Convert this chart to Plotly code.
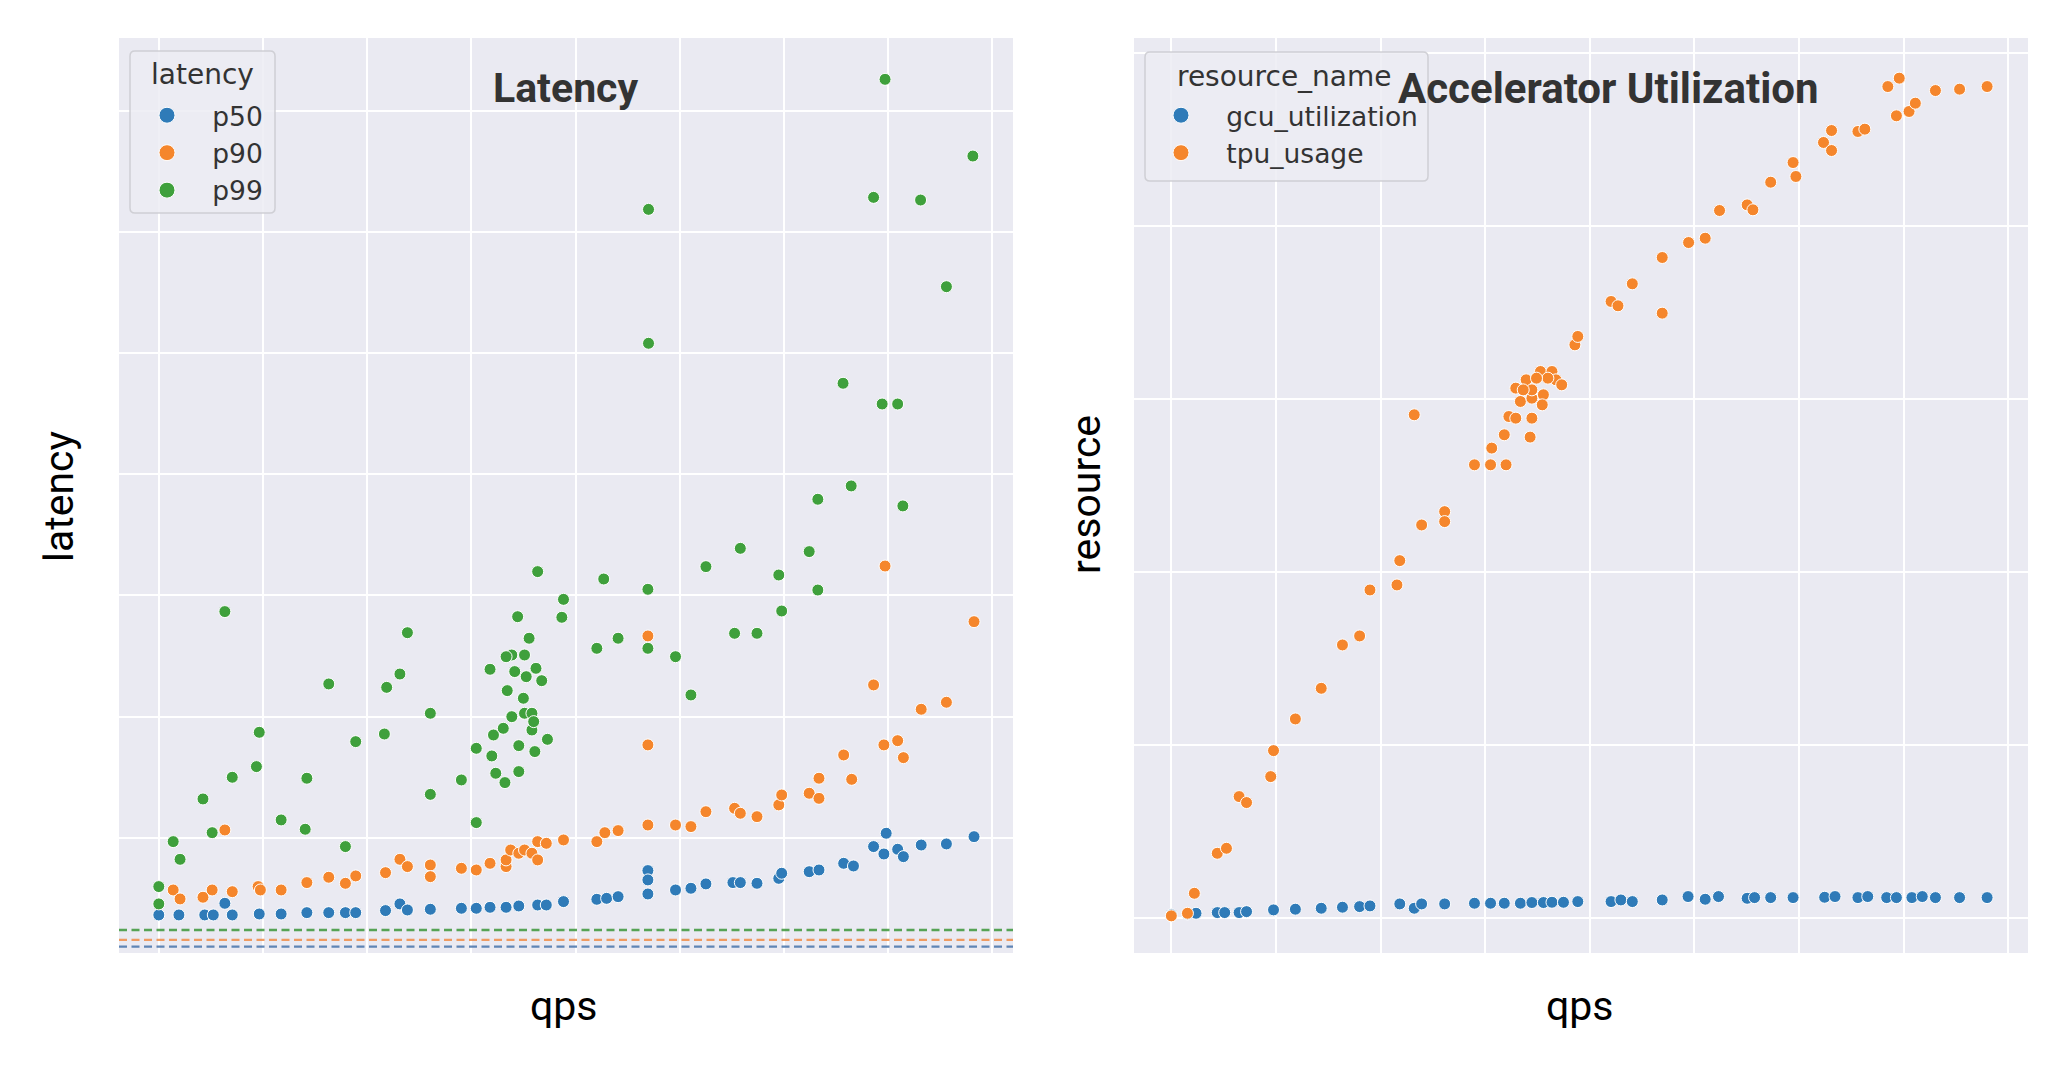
import plotly.graph_objects as go

W, H = 2048, 1066

# ---------------- data: Latency vs qps ----------------
p50_qps = [10.0, 11.93, 14.41, 15.23, 16.34, 17.05, 19.64, 21.74, 24.21, 26.31, 27.91, 28.90,
           31.76, 33.14, 33.86, 36.06, 39.04, 40.47, 41.79, 43.33, 44.55, 46.36, 47.19, 48.84,
           52.04, 52.98, 54.08, 56.94, 56.94, 56.94, 59.59, 61.07, 62.51, 65.10, 65.81, 67.41,
           69.50, 69.78, 72.42, 73.36, 75.73, 76.67, 78.60, 79.81, 79.59, 80.91, 81.46, 83.17,
           85.59, 88.24]
p50_lat = [36.4, 36.4, 36.4, 36.4, 46.0, 36.4, 37.2, 37.2, 38.3, 38.3, 38.3, 38.3,
           40.0, 45.5, 40.5, 41.1, 41.9, 41.9, 42.7, 42.7, 43.8, 44.6, 44.6, 47.4,
           49.3, 50.1, 51.5, 73.0, 65.3, 53.7, 57.0, 58.4, 62.0, 63.1, 63.1, 62.5,
           66.6, 70.8, 72.1, 73.5, 79.0, 76.8, 92.8, 103.8, 86.7, 90.6, 84.5, 94.1,
           95.0, 101.0]

p90_qps = [11.38, 12.04, 14.24, 15.12, 16.34, 17.05, 19.53, 19.75, 21.74, 24.21, 26.31, 27.91,
           28.90, 31.76, 33.14, 33.86, 36.06, 36.06, 39.04, 40.47, 41.79, 43.33, 43.33, 43.77,
           44.55, 45.10, 45.81, 46.36, 46.36, 47.19, 48.84, 52.04, 52.81, 54.08, 56.94, 56.94,
           56.94, 59.59, 61.07, 62.51, 65.26, 65.81, 67.41, 69.50, 69.78, 72.42, 73.36, 73.36,
           75.73, 76.50, 78.60, 79.59, 79.70, 80.91, 81.46, 83.17, 85.59, 88.24]
p90_lat = [57.0, 49.6, 51.0, 57.0, 106.5, 55.6, 59.8, 57.0, 57.0, 63.1, 67.5, 62.5,
           68.6, 71.3, 82.3, 76.3, 77.6, 68.0, 74.9, 73.5, 79.0, 76.3, 81.8, 90.0,
           87.3, 90.0, 87.3, 96.9, 81.8, 95.5, 98.3, 96.9, 104.3, 106.0, 110.6, 176.7,
           266.6, 110.6, 109.3, 121.6, 124.4, 120.3, 117.5, 127.2, 135.4, 136.8, 132.6, 149.2,
           168.4, 148.3, 226.2, 176.7, 324.3, 180.2, 166.2, 206.1, 211.9, 278.4]

p99_qps = [10.0, 10.0, 11.38, 12.04, 14.24, 15.12, 16.34, 17.05, 19.37, 19.64, 21.74, 24.05,
           24.21, 26.31, 27.91, 28.90, 31.65, 31.87, 33.14, 33.86, 36.06, 36.06, 39.04, 40.47,
           40.47, 41.79, 41.96, 42.34, 43.22, 42.12, 43.06, 43.44, 43.88, 43.88, 43.33, 44.16,
           44.44, 44.55, 44.55, 44.99, 45.10, 45.10, 45.26, 45.54, 45.81, 45.81, 45.98, 46.09,
           46.20, 46.75, 47.30, 46.36, 48.68, 48.84, 52.04, 52.70, 54.08, 56.94, 56.94, 59.59,
           61.07, 62.51, 65.26, 65.81, 67.41, 69.50, 69.78, 72.42, 73.25, 79.70, 88.13, 78.60,
           83.11, 57.0, 85.59, 57.0, 75.67, 79.42, 80.91, 76.45, 73.25, 81.41]
p99_lat = [59.8, 45.5, 96.9, 82.3, 132.1, 104.3, 286.7, 150.0, 158.8, 187.1, 114.8, 107.1,
           149.2, 227.0, 92.8, 179.4, 185.7, 224.2, 235.2, 269.3, 202.8, 135.9, 147.8, 112.6,
           173.9, 239.1, 167.6, 153.3, 145.6, 184.9, 190.4, 221.5, 200.0, 250.9, 249.5, 237.2,
           282.5, 154.7, 176.1, 215.2, 202.8, 250.9, 233.0, 264.7, 202.8, 189.0, 195.9, 171.2,
           239.9, 229.7, 181.3, 319.7, 282.0, 296.8, 256.4, 313.6, 264.7, 305.1, 256.4, 249.5,
           217.9, 323.8, 268.8, 338.9, 268.8, 316.9, 287.2, 336.2, 304.5, 725.9, 662.6, 628.5,
           626.3, 618.6, 554.8, 508.1, 475.1, 458.0, 458.0, 390.4, 379.4, 373.9]

# dashed reference levels (p99, p90, p50)
ref_names = ["p99", "p90", "p50"]
ref_levels = [24.0, 15.8, 10.3]

# ---------------- data: Accelerator utilization vs qps ----------------
gcu_qps = [10.0, 11.54, 12.36, 14.39, 15.10, 16.48, 17.19, 19.77, 21.86, 24.33, 26.36, 28.00,
           28.99, 31.84, 33.22, 33.93, 36.13, 38.98, 40.52, 41.83, 43.37, 44.47, 45.57, 46.39,
           47.49, 48.86, 52.04, 52.98, 54.07, 56.93, 59.40, 61.04, 62.31, 65.05, 65.76, 67.30,
           69.44, 72.46, 73.45, 75.64, 76.58, 78.39, 79.32, 80.80, 81.79, 83.05, 85.36, 87.99]
gcu_val = [0.4, 0.5, 0.58, 0.66, 0.66, 0.66, 0.77, 0.97, 1.05, 1.16, 1.28, 1.35,
           1.43, 1.66, 1.16, 1.66, 1.66, 1.74, 1.74, 1.74, 1.74, 1.82, 1.82, 1.85,
           1.85, 1.93, 1.93, 2.12, 1.93, 2.12, 2.51, 2.20, 2.51, 2.31, 2.39, 2.39,
           2.39, 2.43, 2.51, 2.39, 2.51, 2.39, 2.39, 2.39, 2.51, 2.39, 2.39, 2.39]

tpu_qps = [10.0, 11.54, 12.20, 14.39, 15.27, 16.48, 17.19, 19.50, 19.77, 21.86, 24.33, 26.36,
           28.00, 28.99, 31.57, 31.84, 33.93, 36.13, 36.13, 33.22, 38.98, 40.52, 42.00, 40.63,
           41.83, 44.30, 42.27, 42.93, 44.47, 43.37, 44.47, 45.57, 42.93, 43.92, 44.47, 45.29,
           46.39, 46.77, 47.32, 45.46, 46.00, 44.91, 43.64, 48.58, 48.86, 52.04, 52.70, 54.07,
           56.93, 56.93, 59.45, 61.04, 62.41, 65.05, 65.60, 67.30, 69.44, 69.71, 72.35, 73.12,
           73.12, 75.64, 76.30, 78.50, 79.59, 79.32, 80.53, 81.13, 83.05, 85.36, 87.99]
tpu_val = [0.28, 0.58, 2.89, 7.51, 8.09, 14.06, 13.37, 16.37, 19.37, 23.03, 26.57, 31.58,
           32.62, 37.93, 38.51, 41.32, 45.44, 46.98, 45.83, 58.17, 52.39, 52.39, 52.39, 54.32,
           55.86, 55.59, 57.97, 57.78, 57.78, 59.71, 60.09, 60.48, 61.25, 62.21, 61.05, 63.17,
           63.17, 62.21, 61.63, 59.32, 62.40, 62.40, 61.05, 66.25, 67.22, 71.26, 70.76, 73.30,
           69.91, 76.34, 78.07, 78.57, 81.77, 82.42, 81.85, 85.04, 87.31, 85.70, 89.63, 91.01,
           88.70, 90.90, 91.17, 96.09, 97.06, 92.71, 93.21, 94.17, 95.63, 95.79, 96.09]

# ---------------- styling ----------------
BLUE, ORANGE, GREEN = "#2f7bb8", "#f5862c", "#3fa03c"
BG = "#eaeaf2"
NB = "\u00a0\u00a0\u00a0"


def px_x(p):
    return p / W


def px_y(p):
    return 1 - p / H


def marker(color, size=12):
    return dict(color=color, size=size, line=dict(color="white", width=1))


fig = go.Figure()

# data traces
series = [
    ("p50", p50_qps, p50_lat, BLUE, "x", "y", "legend"),
    ("p90", p90_qps, p90_lat, ORANGE, "x", "y", "legend"),
    ("p99", p99_qps, p99_lat, GREEN, "x", "y", "legend"),
    ("gcu_utilization", gcu_qps, gcu_val, BLUE, "x2", "y2", "legend2"),
    ("tpu_usage", tpu_qps, tpu_val, ORANGE, "x2", "y2", "legend2"),
]
for nm, xs, ys, col, xa, ya, lg in series:
    fig.add_trace(go.Scatter(x=xs, y=ys, mode="markers", name=nm, marker=marker(col),
                             xaxis=xa, yaxis=ya, showlegend=False))
# legend entries (larger symbols, as in the reference legend)
for nm, xs, ys, col, xa, ya, lg in series:
    fig.add_trace(go.Scatter(x=[None], y=[None], mode="markers", name=NB + nm,
                             marker=marker(col, 16), xaxis=xa, yaxis=ya,
                             legend=lg, hoverinfo="skip"))

ref_colors = {"p99": "rgba(60,150,58,0.85)", "p90": "rgba(240,140,70,0.85)",
              "p50": "rgba(70,115,170,0.85)"}
for nm, lv in zip(ref_names, ref_levels):
    fig.add_shape(type="line", xref="x domain", yref="y", x0=0, x1=1, y0=lv, y1=lv,
                  line=dict(color=ref_colors[nm], width=2.4, dash="8px,4.5px"), layer="above")


def rounded_box(x0, y0, x1, y1, r=5):
    """legend frame path in paper coordinates (pixel inputs)"""
    rx, ry = r / W, r / H
    X0, X1 = px_x(x0), px_x(x1)
    Y0, Y1 = px_y(y0), px_y(y1)  # Y0 top, Y1 bottom
    return (f"M {X0 + rx},{Y0} L {X1 - rx},{Y0} Q {X1},{Y0} {X1},{Y0 - ry} "
            f"L {X1},{Y1 + ry} Q {X1},{Y1} {X1 - rx},{Y1} L {X0 + rx},{Y1} "
            f"Q {X0},{Y1} {X0},{Y1 + ry} L {X0},{Y0 - ry} Q {X0},{Y0} {X0 + rx},{Y0} Z")


for box in [(130, 51, 275, 213), (1145, 52, 1428, 181)]:
    fig.add_shape(type="path", xref="paper", yref="paper", path=rounded_box(*box),
                  fillcolor="rgba(236,236,243,0.85)", line=dict(color="rgba(204,204,210,0.9)", width=1.5),
                  layer="above")

axis_common = dict(showticklabels=False, ticks="", showline=False, zeroline=False,
                   showgrid=True, gridcolor="white", gridwidth=2.2)

legend_common = dict(xanchor="left", yanchor="top", bgcolor="rgba(0,0,0,0)", borderwidth=0,
                     tracegroupgap=0,
                     font=dict(family="DejaVu Sans", size=26.5, color="#333333"))

fig.update_layout(
    width=W, height=H,
    margin=dict(l=0, r=0, t=0, b=0),
    paper_bgcolor="white",
    plot_bgcolor=BG,
    font=dict(family="DejaVu Sans", color="#333333"),
    xaxis=dict(domain=[px_x(119), px_x(1013)], range=[6.18, 91.98], tick0=0, dtick=10,
               anchor="y", **axis_common),
    yaxis=dict(domain=[px_y(953), px_y(38)], range=[5.0, 760.0], tick0=0, dtick=100,
               anchor="x", **axis_common),
    xaxis2=dict(domain=[px_x(1134), px_x(2028)], range=[6.43, 91.9], tick0=0, dtick=10,
                anchor="y2", **axis_common),
    yaxis2=dict(domain=[px_y(953), px_y(38)], range=[-4.01, 101.7], tick0=0, dtick=20,
                anchor="x2", **axis_common),
    legend=dict(x=px_x(147), y=px_y(91.5), **legend_common),
    legend2=dict(x=px_x(1161), y=px_y(91.5), **legend_common),
)

ann = [
    dict(text="<b>Latency</b>", x=px_x(565), y=px_y(88),
         font=dict(family="Roboto", size=41, color="#333333")),
    dict(text="<b>Accelerator Utilization</b>", x=px_x(1608), y=px_y(88),
         font=dict(family="Roboto", size=42, color="#333333")),
    dict(text="qps", x=px_x(564), y=px_y(1006), font=dict(family="Roboto", size=41, color="black")),
    dict(text="qps", x=px_x(1580), y=px_y(1006), font=dict(family="Roboto", size=41, color="black")),
    dict(text="latency", x=px_x(59), y=px_y(497), textangle=-90,
         font=dict(family="Roboto", size=41, color="black")),
    dict(text="resource", x=px_x(1086), y=px_y(495), textangle=-90,
         font=dict(family="Roboto", size=41, color="black")),
    # legend titles
    dict(text="latency", x=px_x(202), y=px_y(75), font=dict(family="DejaVu Sans", size=28, color="#333333")),
    dict(text="resource_name", x=px_x(1284), y=px_y(76),
         font=dict(family="DejaVu Sans", size=28, color="#333333")),
]
for a in ann:
    fig.add_annotation(xref="paper", yref="paper", showarrow=False, xanchor="center", yanchor="middle", **a)

fig.write_html("out.html")
